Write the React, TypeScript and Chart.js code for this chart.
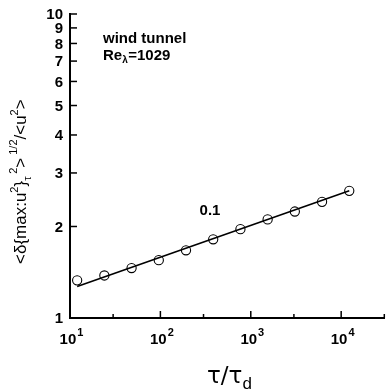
import React, { useEffect, useRef } from "react";
import { Chart, registerables } from "chart.js";

Chart.register(...registerables);

// data
const tau = [12, 24, 48, 96, 192, 384, 768, 1536, 3072, 6144, 12288];
const ratio = [1.33, 1.38, 1.46, 1.55, 1.67, 1.815, 1.96, 2.11, 2.24, 2.41, 2.62];
const fitTau = [12, 12288];
const fitRatio = [1.27, 2.62];
const yTickValues = [1, 2, 3, 4, 5, 6, 7, 8, 9, 10];
const xMajorTicks = [10, 100, 1000, 10000];
const xMajorExponents = ["1", "2", "3", "4"];
const xMinorTicks = [30, 300, 3000, 30000];
const slopeLabel = "0.1";
const slopeAt = [354, 2.25];

const SANS = "Arial, 'Liberation Sans', Helvetica, sans-serif";

const overlay = {
  id: "overlay",
  afterDraw(chart: any) {
    const ctx = chart.ctx as CanvasRenderingContext2D;
    const xs = chart.scales.x;
    const ys = chart.scales.y;
    const area = chart.chartArea;
    ctx.save();
    ctx.strokeStyle = "#000";
    ctx.fillStyle = "#000";
    ctx.lineWidth = 1.5;

    // y ticks (inward) + labels
    ctx.font = `bold 15px ${SANS}`;
    ctx.textAlign = "right";
    ctx.textBaseline = "middle";
    for (const v of yTickValues) {
      const py = ys.getPixelForValue(v);
      ctx.beginPath();
      ctx.moveTo(area.left, py);
      ctx.lineTo(area.left + 7, py);
      ctx.stroke();
      ctx.fillText(String(v), area.left - 7, py + 1);
    }

    // x ticks
    for (const v of xMajorTicks) {
      const px = xs.getPixelForValue(v);
      ctx.beginPath();
      ctx.moveTo(px, area.bottom);
      ctx.lineTo(px, area.bottom - 7);
      ctx.stroke();
    }
    for (const v of xMinorTicks) {
      const px = xs.getPixelForValue(v);
      ctx.beginPath();
      ctx.moveTo(px, area.bottom);
      ctx.lineTo(px, area.bottom - 4);
      ctx.stroke();
    }
    // x labels 10^n
    xMajorTicks.forEach((v, i) => {
      const px = xs.getPixelForValue(v);
      ctx.font = `bold 15px ${SANS}`;
      const wb = ctx.measureText("10").width;
      ctx.font = `bold 11px ${SANS}`;
      const we = ctx.measureText(xMajorExponents[i]).width;
      const start = px - (wb + we) / 2 + 1;
      ctx.textAlign = "left";
      ctx.textBaseline = "alphabetic";
      ctx.font = `bold 15px ${SANS}`;
      ctx.fillText("10", start, area.bottom + 26);
      ctx.font = `bold 11px ${SANS}`;
      ctx.fillText(xMajorExponents[i], start + wb + 1, area.bottom + 18);
    });

    // annotations
    ctx.textAlign = "left";
    ctx.textBaseline = "alphabetic";
    ctx.font = `bold 15px ${SANS}`;
    ctx.fillText("wind tunnel", 103, 43);
    ctx.fillText("Re", 103, 60);
    const wRe = ctx.measureText("Re").width;
    ctx.font = `bold 10px ${SANS}`;
    ctx.fillText("\u03bb", 103 + wRe, 63);
    const wl = ctx.measureText("\u03bb").width;
    ctx.font = `bold 15px ${SANS}`;
    ctx.fillText("=1029", 103 + wRe + wl + 0.5, 60);

    ctx.font = `bold 15px ${SANS}`;
    ctx.textAlign = "center";
    ctx.textBaseline = "middle";
    ctx.fillText(slopeLabel, xs.getPixelForValue(slopeAt[0]), ys.getPixelForValue(slopeAt[1]));

    // x title
    ctx.textAlign = "left";
    ctx.textBaseline = "alphabetic";
    ctx.font = `23px 'DejaVu Sans', ${SANS}`;
    const t1 = "\u03c4/\u03c4";
    ctx.fillText(t1, 207, 383);
    const wt = ctx.measureText(t1).width;
    ctx.font = `17px ${SANS}`;
    ctx.fillText("d", 207 + wt, 389);

    // y title (rotated)
    ctx.save();
    ctx.translate(26, 264);
    ctx.rotate(-Math.PI / 2);
    ctx.textAlign = "left";
    ctx.textBaseline = "alphabetic";
    let x = 0;
    const big = `17px ${SANS}`;
    const small = `11px ${SANS}`;
    const put = (s: string, font: string, dy: number) => {
      ctx.font = font;
      ctx.fillText(s, x, dy);
      x += ctx.measureText(s).width;
    };
    put("<\u03b4{max:u", big, 0);
    put("2", small, -8);
    put("}", big, 0);
    const xSub = x;
    put("\u03c4", small, 5);
    x = xSub + 7;
    put("2", small, -9);
    put(">", big, 0);
    x += 3;
    put("1/2", small, -9);
    put("/<u", big, 0);
    put("2", small, -8);
    put(">", big, 0);
    ctx.restore();

    ctx.restore();
  },
};

export default function App() {
  const ref = useRef<HTMLCanvasElement | null>(null);
  useEffect(() => {
    document.body.style.margin = "0";
    const canvas = ref.current;
    if (!canvas) return;
    const chart = new Chart(canvas, {
      type: "scatter",
      data: {
        datasets: [
          {
            label: "fit",
            data: fitTau.map((t, i) => ({ x: t, y: fitRatio[i] })),
            showLine: true,
            borderColor: "#000",
            borderWidth: 1.6,
            pointRadius: 0,
            fill: false,
          },
          {
            label: "data",
            data: tau.map((t, i) => ({ x: t, y: ratio[i] })),
            showLine: false,
            pointRadius: 4.6,
            pointBackgroundColor: "#fff",
            pointBorderColor: "#000",
            pointBorderWidth: 1.1,
          },
        ],
      },
      options: {
        animation: false,
        responsive: false,
        devicePixelRatio: 1,
        layout: { padding: { left: 70, top: 14, right: 1, bottom: 72 } },
        plugins: { legend: { display: false }, tooltip: { enabled: false } },
        scales: {
          x: {
            type: "logarithmic",
            min: 10,
            max: 30000,
            grid: { display: false, drawTicks: false },
            ticks: { display: false },
            border: { display: true, color: "#000", width: 2 },
          },
          y: {
            type: "logarithmic",
            min: 1,
            max: 10,
            grid: { display: false, drawTicks: false },
            ticks: { display: false },
            border: { display: true, color: "#000", width: 2 },
          },
        },
      },
      plugins: [overlay],
    });
    return () => chart.destroy();
  }, []);
  return (
    <div style={{ width: 390, height: 390, background: "#fff" }}>
      <canvas ref={ref} width={390} height={390} style={{ display: "block" }} />
    </div>
  );
}
